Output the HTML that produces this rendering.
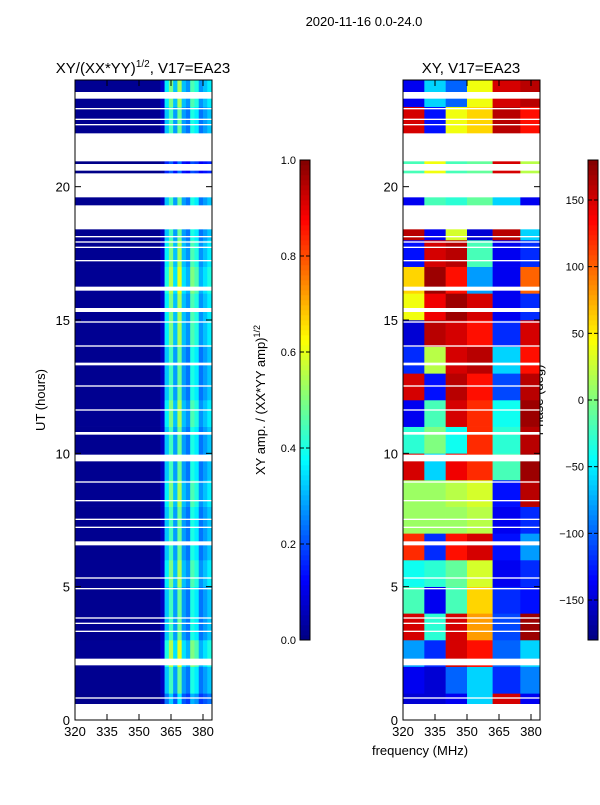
<!DOCTYPE html>
<html><head><meta charset="utf-8"><style>
body{margin:0;background:#fff;font-family:"Liberation Sans",sans-serif}
svg text{font-family:"Liberation Sans",sans-serif;fill:#000}
</style></head><body>
<svg id="c" width="600" height="800" xmlns="http://www.w3.org/2000/svg">
<text x="364" y="26" font-size="13" text-anchor="middle">2020-11-16 0.0-24.0</text>
<text x="143" y="73" font-size="15" text-anchor="middle">XY/(XX*YY)<tspan font-size="10" dy="-6">1/2</tspan><tspan dy="6">, V17=EA23</tspan></text>
<text x="471" y="73" font-size="15" text-anchor="middle">XY, V17=EA23</text>
<text x="420" y="755" font-size="13" text-anchor="middle">frequency (MHz)</text>
<text transform="translate(45,400) rotate(-90)" font-size="13" text-anchor="middle">UT (hours)</text>
<text transform="translate(265,400) rotate(-90)" font-size="13" text-anchor="middle">XY amp. / (XX*YY amp)<tspan font-size="9" dy="-5">1/2</tspan></text>
<text transform="translate(543,400) rotate(-90)" font-size="13" text-anchor="middle">Phase (deg)</text>
<g id="L"></g>
<g id="R"></g>
<g id="AX"></g>
</svg>
<script>
const uts=[0,1,2,3,4,5,6,7,8,9,10,11,12,13,14,15,16,17,18,19,20,21,22,23];
const gaps=[[0,0.6],[0.8,0.85],[2.05,2.3],[3.3,3.35],[3.6,3.65],[3.8,3.85],[4.9,4.95],[5.3,5.35],[6.55,6.7],[7.2,7.25],[7.5,7.55],[8.2,8.25],[8.9,8.95],[9.7,9.95],[10.7,10.8],[11.6,11.65],[12.5,12.55],[13.3,13.4],[14.0,14.05],[14.9,14.95],[15.3,15.45],[16.1,16.25],[17.2,17.25],[17.7,17.75],[17.9,17.95],[18.1,18.15],[18.4,19.3],[19.6,20.5],[20.6,20.85],[20.95,22.0],[22.3,22.35],[22.5,22.55],[22.9,22.95],[23.3,23.55]];
const ampFreq=[320,360,362,364,366,368,370,372,374,376,378,380,382,384.2];
const ampProfile=[0.02,0.08,0.4,0.55,0.35,0.6,0.35,0.3,0.5,0.45,0.3,0.35,0.4];
const ampRow=[0.6,0.8,1.0,0.8,0.8,0.9,0.8,0.8,0.9,0.8,0.8,0.9,0.8,0.8,0.9,0.9,1.0,0.9,0.8,0.8,0.4,0.4,0.8,0.9];
const phFreq=[320,330,340,350,362,375,384.2];
const phase=[
[-150,-150,-140,-60,150,-140],[-140,-150,-100,-60,-120,-90],[-80,-120,150,130,-100,-60],
[150,-30,150,80,-110,170],[-20,-140,-20,60,-120,-130],[-40,-30,-10,30,-140,-120],
[120,-120,130,150,-130,-80],[10,10,10,20,-140,-120],[10,10,20,30,-130,160],
[150,-60,140,120,-20,170],[-30,0,-40,120,-30,160],[-140,-20,150,120,-40,170],
[150,-130,160,130,-110,160],[-120,20,150,160,-60,130],[-150,160,150,130,-120,150],
[40,140,170,150,-140,-120],[60,170,130,-80,-140,100],[-130,150,160,-20,-140,-120],
[160,-140,30,-150,160,-60],[-140,-20,-30,-10,-60,-140],[-20,40,-20,-10,150,20],
[-20,40,-20,-10,150,20],[150,-130,40,60,160,130],[-140,-60,-100,40,150,160]];
const ampTicks=[0,0.2,0.4,0.6,0.8,1.0];
const phTicks=[-150,-100,-50,0,50,100,150];
const xTicks=[320,335,350,365,380];
const yTicks=[0,5,10,15,20];
const NS="http://www.w3.org/2000/svg";
function jet(v){v=Math.max(0,Math.min(1,v));const f=x=>Math.round(255*Math.max(0,Math.min(1,1.5-Math.abs(4*v-x))));return `rgb(${f(3)},${f(2)},${f(1)})`;}
const Y=u=>720-u*640/24;
const XL=f=>75+(f-320)*128/60, XR=f=>403+(f-320)*128/60;
function el(t,a,p){const e=document.createElementNS(NS,t);for(const k in a)e.setAttribute(k,a[k]);p.appendChild(e);return e;}
const L=document.getElementById('L'),R=document.getElementById('R'),AX=document.getElementById('AX');
uts.forEach((u,i)=>{
  for(let j=0;j<ampProfile.length;j++){
    const r=el('rect',{x:XL(ampFreq[j]),y:Y(u+1),width:XL(ampFreq[j+1])-XL(ampFreq[j])+0.3,height:Y(u)-Y(u+1)+0.3,fill:jet(ampProfile[j]*ampRow[i])},L);
    
    
  }
  for(let j=0;j<phase[i].length;j++){
    const r=el('rect',{x:XR(phFreq[j]),y:Y(u+1),width:XR(phFreq[j+1])-XR(phFreq[j])+0.3,height:Y(u)-Y(u+1)+0.3,fill:jet((phase[i][j]+180)/360)},R);
    
    
  }
});
gaps.forEach(g=>{[75,403].forEach(x0=>{
  const r=el('rect',{x:x0,y:Y(g[1]),width:137,height:Math.max(1.2,Y(g[0])-Y(g[1])),fill:'#fff'},AX);
  
  
});});
[[75,XL],[403,XR]].forEach(([x0,X],k)=>{
  const f=el('rect',{x:x0,y:80,width:137,height:640,fill:'none',stroke:'#000','stroke-width':1},AX);
  
  
  xTicks.forEach(t=>{el('line',{x1:X(t),x2:X(t),y1:720,y2:714,stroke:'#000'},AX);el('line',{x1:X(t),x2:X(t),y1:80,y2:86,stroke:'#000'},AX);
    const tx=el('text',{x:X(t),y:736,'font-size':13,'text-anchor':'middle'},AX);tx.textContent=t;
    });
  yTicks.forEach(t=>{el('line',{x1:x0,x2:x0+6,y1:Y(t),y2:Y(t),stroke:'#000'},AX);el('line',{x1:x0+137,x2:x0+131,y1:Y(t),y2:Y(t),stroke:'#000'},AX);
    const tx=el('text',{x:x0-5,y:Y(t)+5,'font-size':13,'text-anchor':'end'},AX);tx.textContent=t;
    });
});
function cbar(x,lo,hi,ticks,name){
  const g=el('g',{},AX);
  for(let i=0;i<96;i++){el('rect',{x:x,y:640-(i+1)*5,width:10,height:5.3,fill:jet((i+0.5)/96)},g);}
  el('rect',{x:x,y:160,width:10,height:480,fill:'none',stroke:'#000'},g);
  ticks.forEach(t=>{const yy=640-(t-lo)/(hi-lo)*480;el('line',{x1:x+10,x2:x+6,y1:yy,y2:yy,stroke:'#000'},g);el('line',{x1:x,x2:x+4,y1:yy,y2:yy,stroke:'#000'},g);
    const tx=el('text',{x:x-4,y:yy+4,'font-size':11,'text-anchor':'end'},g);tx.textContent=(name==='colorbar-amp'?t.toFixed(1):(t<0?'\u2212'+(-t):t));
    });
}
cbar(300,0,1,ampTicks,'colorbar-amp');
cbar(588,-180,180,phTicks,'colorbar-phase');
</script>
</body></html>
